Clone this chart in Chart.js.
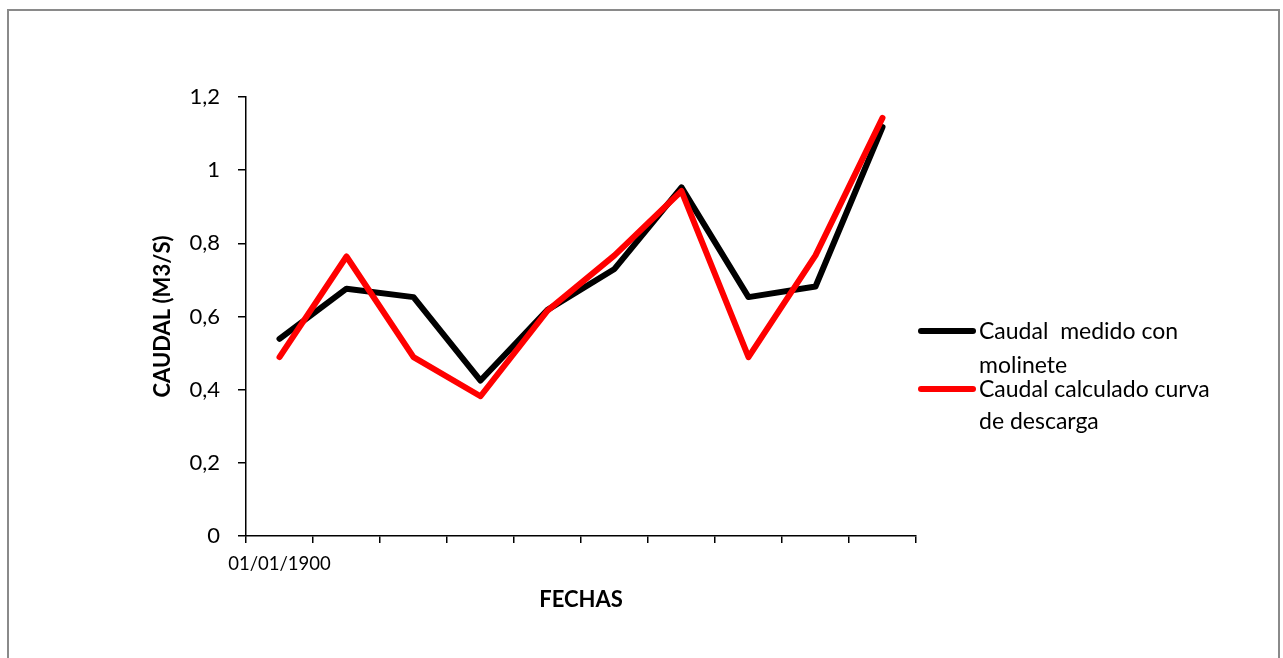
<!DOCTYPE html>
<html>
<head>
<meta charset="utf-8">
<title>Caudal</title>
<script src="https://cdn.jsdelivr.net/npm/chart.js@4.4.1/dist/chart.umd.min.js"></script>
<style>
  html, body { margin: 0; padding: 0; background: #fff; }
  #wrap { position: relative; width: 1283px; height: 658px; }
</style>
</head>
<body>
<div id="wrap"><canvas id="grafico" width="1283" height="658"></canvas></div>
<script>
// Datos del grafico
const fechas = ["01/01/1900", "01/01/1900", "01/01/1900", "01/01/1900", "01/01/1900",
                "01/01/1900", "01/01/1900", "01/01/1900", "01/01/1900", "01/01/1900"];
const caudalMolinete = [0.539, 0.676, 0.653, 0.425, 0.618, 0.730, 0.953, 0.653, 0.682, 1.118];
const caudalCurva = [0.489, 0.764, 0.489, 0.382, 0.616, 0.767, 0.943, 0.489, 0.767, 1.143];
const etiquetaMolinete = ["Caudal  medido con", "molinete"];
const etiquetaCurva = ["Caudal calculado curva", "de descarga"];

const fuente = "Lato, 'Noto Sans', sans-serif";

// Marco gris alrededor del grafico
const marco = {
  id: 'marco',
  beforeDraw(chart) {
    const ctx = chart.ctx;
    ctx.save();
    ctx.fillStyle = '#fff';
    ctx.fillRect(0, 0, chart.width, chart.height);
    ctx.strokeStyle = '#8a8a8a';
    ctx.lineWidth = 2;
    ctx.strokeRect(8, 10, 1271, 700);
    ctx.restore();
  }
};

// Leyenda a la derecha, con texto en dos lineas
const leyenda = {
  id: 'leyenda',
  afterDraw(chart) {
    const ctx = chart.ctx;
    const x0 = chart.chartArea.right;
    const filas = [
      { ds: 0, lineaY: 331, bases: [339, 373] },
      { ds: 1, lineaY: 389, bases: [397, 429] }
    ];
    ctx.save();
    ctx.font = "23px " + fuente;
    ctx.textBaseline = 'alphabetic';
    ctx.textAlign = 'left';
    filas.forEach(f => {
      const ds = chart.data.datasets[f.ds];
      ctx.strokeStyle = ds.borderColor;
      ctx.lineWidth = 6;
      ctx.lineCap = 'round';
      ctx.beginPath();
      ctx.moveTo(x0 + 5, f.lineaY);
      ctx.lineTo(x0 + 57, f.lineaY);
      ctx.stroke();
      ctx.fillStyle = '#000';
      ds.label.forEach((t, i) => ctx.fillText(t, x0 + 63, f.bases[i]));
    });
    ctx.restore();
  }
};

const ctx = document.getElementById('grafico').getContext('2d');
new Chart(ctx, {
  type: 'line',
  data: {
    labels: fechas,
    datasets: [
      {
        label: etiquetaMolinete,
        data: caudalMolinete,
        borderColor: '#000000',
        backgroundColor: '#000000',
        borderWidth: 6,
        borderJoinStyle: 'round',
        borderCapStyle: 'round',
        pointRadius: 0,
        tension: 0,
        order: 1
      },
      {
        label: etiquetaCurva,
        data: caudalCurva,
        borderColor: '#ff0000',
        backgroundColor: '#ff0000',
        borderWidth: 6,
        borderJoinStyle: 'round',
        borderCapStyle: 'round',
        pointRadius: 0,
        tension: 0,
        order: 0
      }
    ]
  },
  options: {
    responsive: false,
    animation: false,
    layout: {
      padding: { top: 97, right: 367, left: 0, bottom: 0 }
    },
    plugins: {
      legend: { display: false },
      tooltip: { enabled: false }
    },
    scales: {
      x: {
        offset: true,
        grid: {
          offset: true,
          drawOnChartArea: false,
          drawTicks: true,
          tickLength: 7,
          color: '#000',
          lineWidth: 1.5
        },
        border: { display: true, color: '#000', width: 1.5 },
        ticks: {
          autoSkip: false,
          maxRotation: 0,
          minRotation: 0,
          padding: 10,
          color: '#000',
          font: { family: fuente, size: 18.5 },
          callback: function (v, i) { return i === 0 ? fechas[i] : ''; }
        },
        title: {
          display: true,
          text: 'FECHAS',
          color: '#000',
          font: { family: fuente, size: 22, weight: 'bold' },
          padding: { top: 0, bottom: 45 }
        },
        afterFit(scale) { scale.height = 122; }
      },
      y: {
        min: 0,
        max: 1.2,
        grid: {
          drawOnChartArea: false,
          drawTicks: true,
          tickLength: 8,
          color: '#000',
          lineWidth: 1.5
        },
        border: { display: true, color: '#000', width: 1.5 },
        ticks: {
          stepSize: 0.2,
          padding: 18,
          color: '#000',
          font: { family: fuente, size: 22 },
          callback: v => String(Math.round(v * 10) / 10).replace('.', ',')
        },
        title: {
          display: true,
          text: 'CAUDAL (M3/S)',
          color: '#000',
          font: { family: fuente, size: 22, weight: 'bold' },
          padding: { top: 150, bottom: 0 }
        },
        afterFit(scale) { scale.width = 246; }
      }
    }
  },
  plugins: [marco, leyenda]
});
</script>
</body>
</html>
